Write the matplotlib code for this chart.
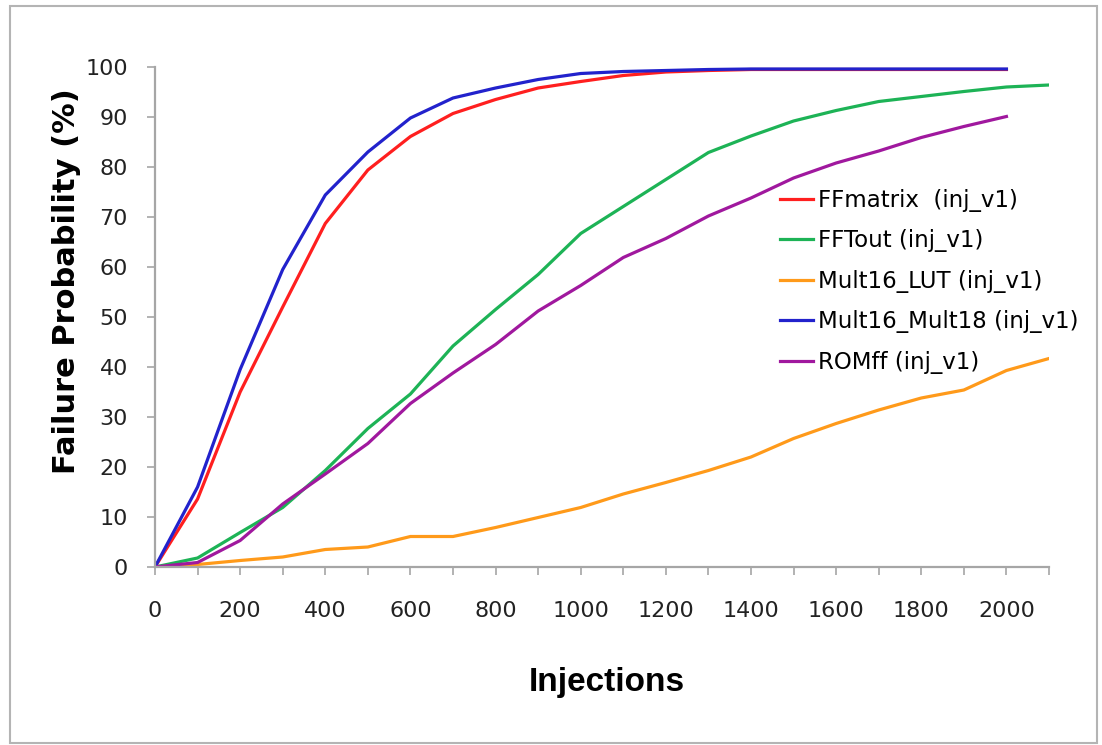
import matplotlib
matplotlib.use("Agg")
import matplotlib.pyplot as plt
from matplotlib.patches import Rectangle

plt.rcParams['font.family'] = ['DejaVu Sans']

x_full = list(range(0, 2101, 100))
x_2000 = list(range(0, 2001, 100))

ffmatrix = [0, 13.6, 35, 52, 68.7, 79.4, 86.1, 90.7, 93.5, 95.8, 97.1, 98.3, 99.0,
            99.3, 99.5, 99.5, 99.5, 99.5, 99.5, 99.5, 99.5]
fftout = [0, 1.8, 6.9, 11.9, 19.3, 27.7, 34.6, 44.2, 51.5, 58.5, 66.7, 72.1, 77.5,
          82.9, 86.2, 89.2, 91.3, 93.1, 94.1, 95.1, 96.0, 96.4]
mult16_lut = [0, 0.5, 1.3, 2.0, 3.5, 4.0, 6.1, 6.1, 7.9, 9.9, 11.9, 14.6, 16.9,
              19.3, 22.0, 25.7, 28.7, 31.4, 33.8, 35.4, 39.3, 41.7]
mult16_mult18 = [0, 16, 39.5, 59.5, 74.4, 83, 89.8, 93.8, 95.8, 97.5, 98.7, 99.1, 99.3,
                 99.5, 99.6, 99.6, 99.6, 99.6, 99.6, 99.6, 99.6]
romff = [0, 0.9, 5.3, 12.6, 18.6, 24.7, 32.7, 38.8, 44.5, 51.2, 56.3, 61.9, 65.7,
         70.2, 73.8, 77.8, 80.8, 83.2, 85.9, 88.1, 90.1]

labels = ["FFmatrix  (inj_v1)", "FFTout (inj_v1)", "Mult16_LUT (inj_v1)",
          "Mult16_Mult18 (inj_v1)", "ROMff (inj_v1)"]
colors = ["#ff1f1f", "#1db356", "#ff9a1a", "#2222cc", "#a0189e"]

fig = plt.figure(figsize=(11.02, 7.45), dpi=100)
ax = fig.add_axes([155/1102, 1-567/745, (1049-155)/1102, (567-67)/745])

series = [(x_2000, ffmatrix), (x_full, fftout), (x_full, mult16_lut),
          (x_2000, mult16_mult18), (x_2000, romff)]
for (xs, ys), lab, c in zip(series, labels, colors):
    ax.plot(xs, ys, color=c, lw=2.3, label=lab, solid_joinstyle='round')

ax.set_xlim(0, 2100)
ax.set_ylim(0, 100)
ax.set_xticks(range(0, 2101, 100))
ax.set_xticklabels([str(v) if v % 200 == 0 and v <= 2000 else '' for v in range(0, 2101, 100)])
ax.set_yticks(range(0, 101, 10))

for s in ['top', 'right']:
    ax.spines[s].set_visible(False)
for s in ['left', 'bottom']:
    ax.spines[s].set_color('#a6a6a6')
    ax.spines[s].set_linewidth(1.6)
ax.tick_params(axis='both', colors='#a6a6a6', length=5.5, width=1.2, labelsize=16,
               labelcolor='#222222')
ax.tick_params(axis='x', pad=19)
ax.tick_params(axis='y', pad=14)

ax.set_xlabel("Injections", fontsize=24, fontweight='bold', labelpad=0,
              family=['Liberation Sans', 'DejaVu Sans'])
ax.xaxis.set_label_coords((607-155)/(1049-155), 1-(667-67)/500)
ax.set_ylabel("Failure Probability (%)", fontsize=22, fontweight='bold')
ax.yaxis.set_label_coords((81-155)/(1049-155), 1-(281-67)/500)

leg = ax.legend(loc='upper left', bbox_to_anchor=((780-155)/894, 1-(189-67)/500),
                frameon=False, fontsize=16.5, handlelength=1.45, handletextpad=0.2,
                labelspacing=0.76, borderpad=0, borderaxespad=0)

fig.patches.append(Rectangle((10/1102, 2/745), 1087/1102, 737/745, transform=fig.transFigure,
                             fill=False, edgecolor='#b4b4b4', lw=1.5))

fig.savefig("out.png", dpi=100)
